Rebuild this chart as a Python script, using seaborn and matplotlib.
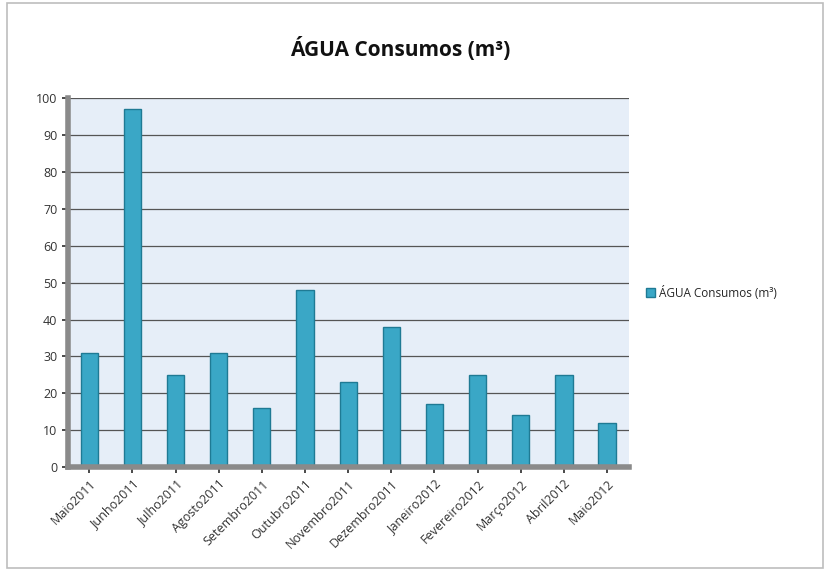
import matplotlib
matplotlib.use("Agg")
import matplotlib.pyplot as plt
import pandas as pd
import seaborn as sns
from matplotlib.patches import Patch, Rectangle

months = ["Maio2011", "Junho2011", "Julho2011", "Agosto2011", "Setembro2011",
          "Outubro2011", "Novembro2011", "Dezembro2011", "Janeiro2012",
          "Fevereiro2012", "Março2012", "Abril2012", "Maio2012"]
consumo = [31, 97, 25, 31, 16, 48, 23, 38, 17, 25, 14, 25, 12]
series_name = "ÁGUA Consumos (m³)"

df = pd.DataFrame({"mes": months, "consumo": consumo})

sns.set_theme(style="white")
plt.rcParams["font.family"] = ["Open Sans", "DejaVu Sans"]

fig = plt.figure(figsize=(8.25, 5.71), dpi=100)
# outer chart border
fig.patches.append(Rectangle((0.008, 0.005), 0.99, 0.99, transform=fig.transFigure,
                             fill=False, edgecolor="#bdbdbd", linewidth=1.2))

ax = fig.add_axes([0.082, 0.182, 0.68, 0.646])
ax.set_facecolor("#e6eef8")

bar_color = "#3aa7c6"
sns.barplot(data=df, x="mes", y="consumo", color=bar_color, width=0.4,
            edgecolor="#1f7a94", linewidth=1.0, saturation=1, ax=ax)

ax.set_ylim(0, 100)
ax.set_yticks(range(0, 101, 10))
ax.set_xlim(-0.5, len(months) - 0.5)
ax.yaxis.grid(True, color="#555555", linewidth=0.9)
ax.set_axisbelow(True)
ax.set_xlabel("")
ax.set_ylabel("")
for s in ["top", "right"]:
    ax.spines[s].set_visible(False)
ax.spines["left"].set_color("#8a8a8a")
ax.spines["bottom"].set_color("#8a8a8a")
ax.spines["left"].set_linewidth(4)
ax.spines["bottom"].set_linewidth(4)
ax.tick_params(axis="y", labelsize=9, colors="#333333", length=4, left=True)
ax.tick_params(axis="x", labelsize=9, colors="#333333", length=4, bottom=True)
plt.setp(ax.get_xticklabels(), rotation=45, ha="right", rotation_mode="anchor")

fig.suptitle(series_name, x=0.485, y=0.935, fontsize=15, fontweight="bold", color="#111111")

handles = [Patch(facecolor=bar_color, edgecolor="#1f7a94", label=series_name)]
fig.legend(handles=handles, loc="center left", bbox_to_anchor=(0.77, 0.487),
           frameon=False, fontsize=8.5, handlelength=0.8, handleheight=0.8,
           handletextpad=0.3)

fig.savefig("out.png", dpi=100)
